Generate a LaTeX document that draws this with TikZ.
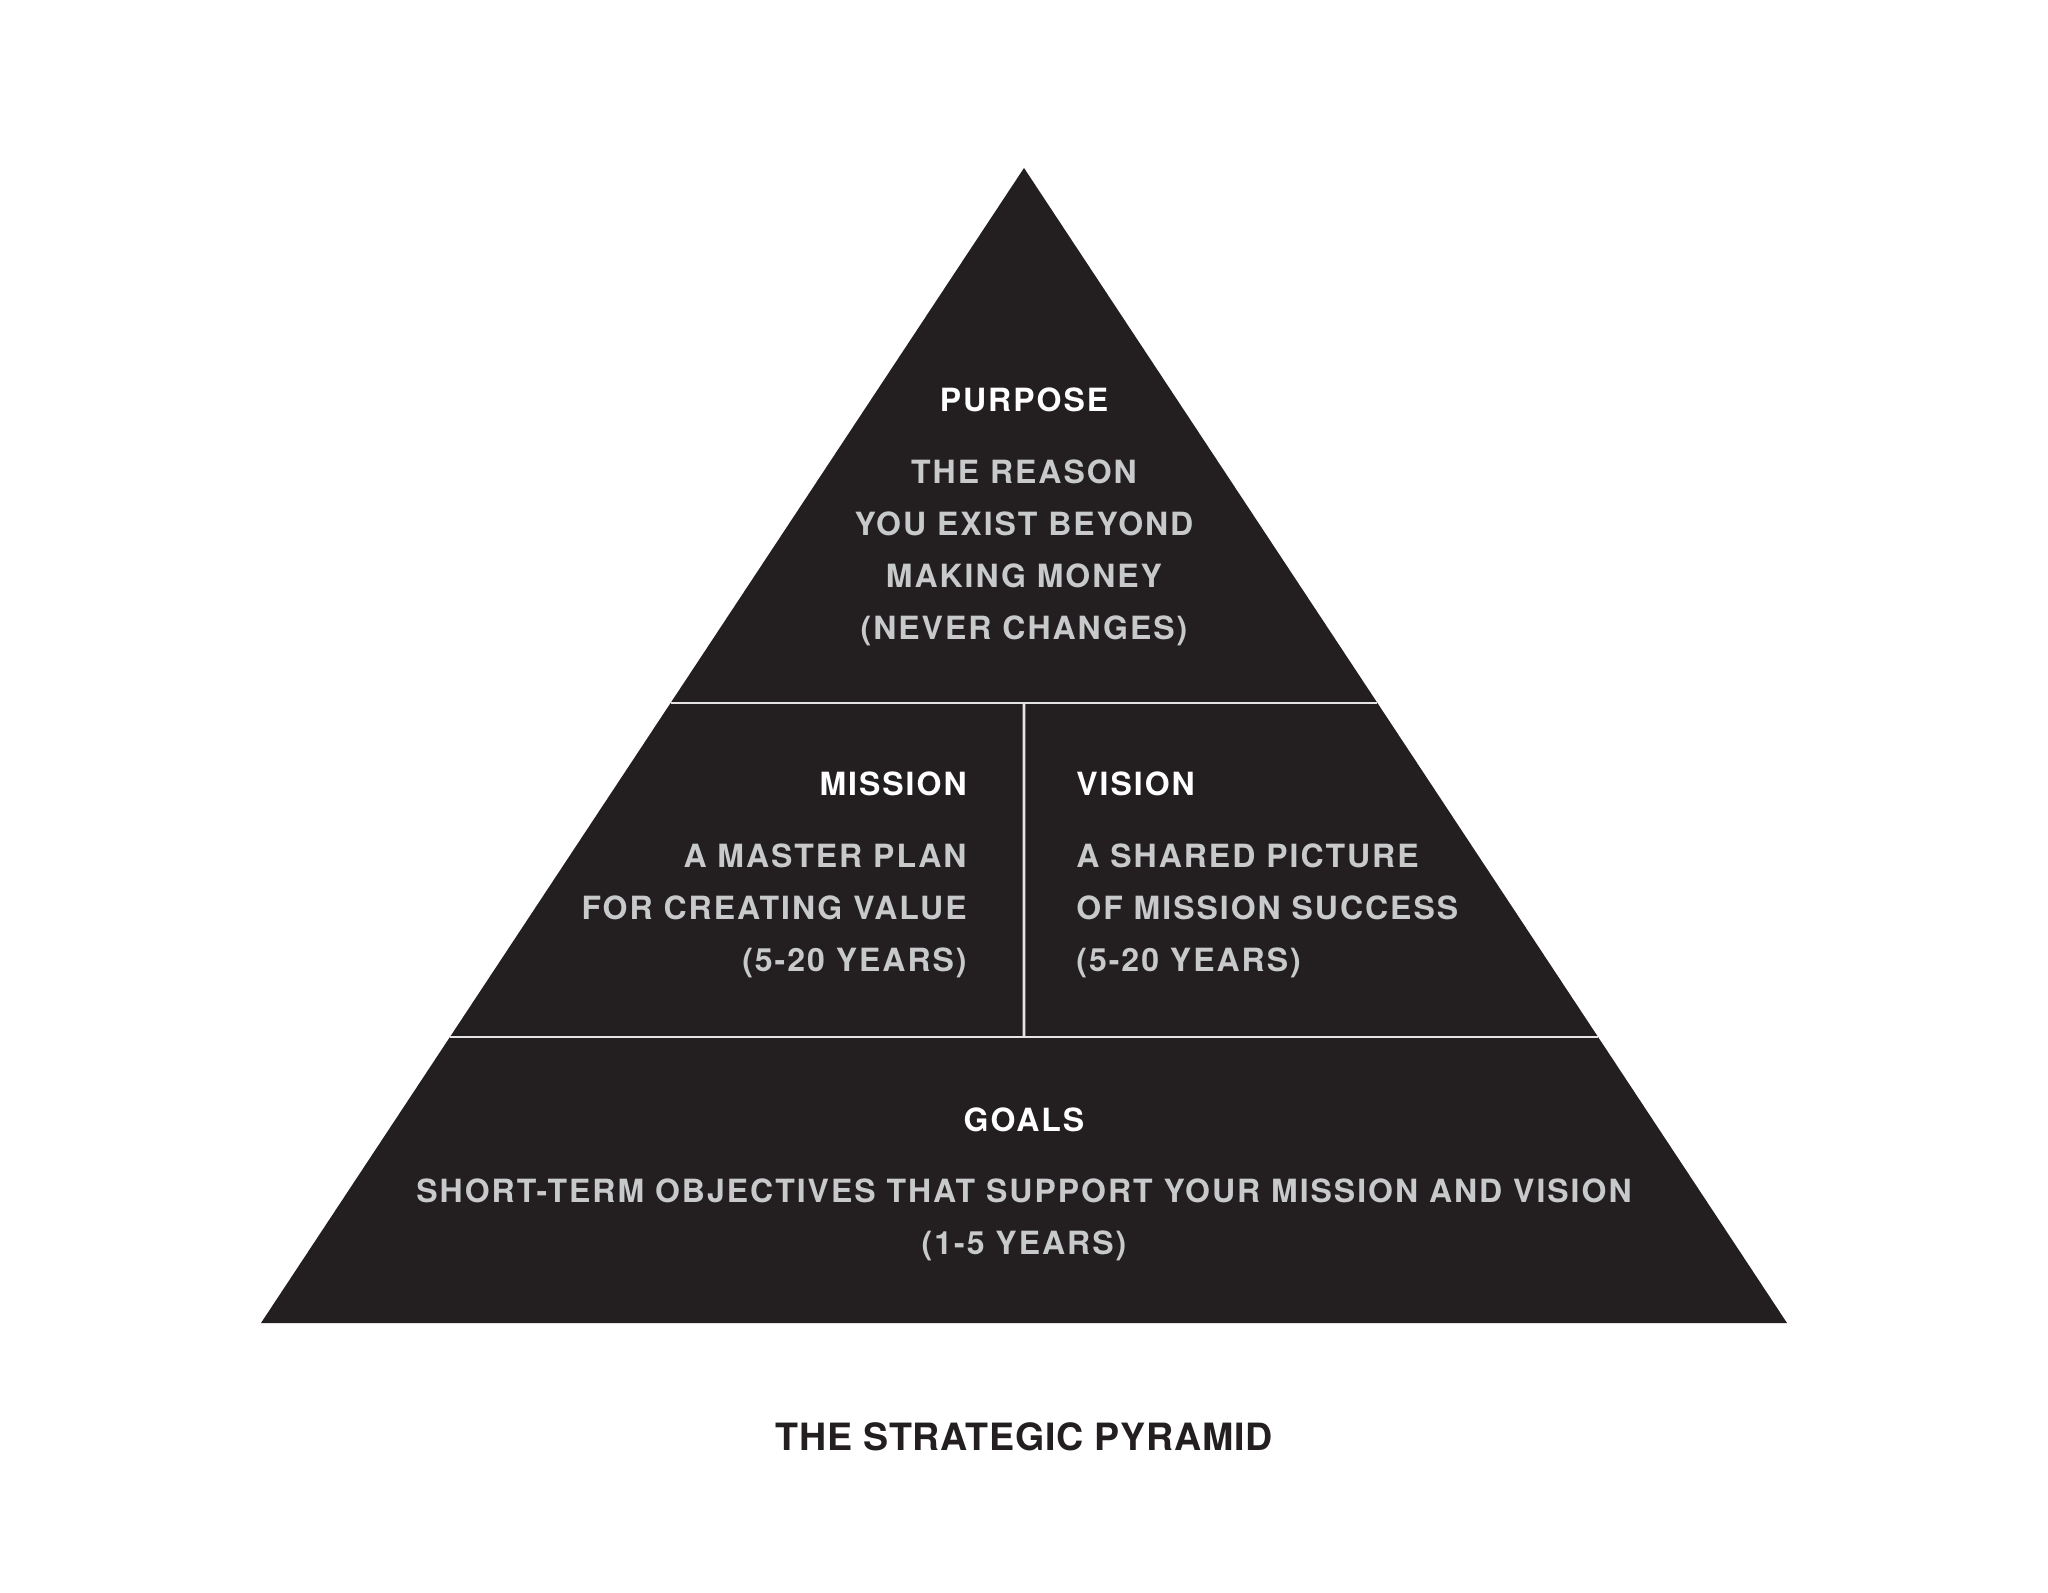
\documentclass[tikz,border=0pt]{standalone}
\usepackage{fontspec}
\setmainfont{TeX Gyre Heros}
\newfontfamily\pyrfont[LetterSpace=6.2]{TeX Gyre Heros}
\newfontfamily\pyrtitlefont[LetterSpace=2]{TeX Gyre Heros}
\usetikzlibrary{positioning,calc}
\definecolor{pyrdark}{HTML}{231F20}
\definecolor{pyrgrey}{HTML}{C8C9CB}
\definecolor{pyrline}{HTML}{E4E4E4}
\tikzset{
  headtxt/.style={text=white, inner sep=0pt, font=\pyrfont\bfseries\fontsize{16}{19}\selectfont},
  bodytxt/.style={text=pyrgrey, inner sep=0pt, font=\pyrfont\bfseries\fontsize{16}{26}\selectfont},
  titletxt/.style={text=pyrdark, inner sep=0pt, font=\pyrtitlefont\bfseries\fontsize{18.8}{22}\selectfont},
  divline/.style={draw=pyrline, line width=1.4pt}}

\begin{document}
\begin{tikzpicture}[x=0.5pt, y=-0.5pt]
  \useasboundingbox (0,0) rectangle (2048,1593);
  \coordinate (apex) at (1024,168);
  \coordinate (bl) at (261,1323);
  \coordinate (br) at (1787,1323);
  \fill[pyrdark] (apex) -- (br) -- (bl) -- cycle;

  % tier dividers
  \coordinate (topL) at ($(apex)!0.4632!(bl)$);
  \coordinate (topR) at ($(apex)!0.4632!(br)$);
  \coordinate (midL) at ($(apex)!0.7524!(bl)$);
  \coordinate (midR) at ($(apex)!0.7524!(br)$);
  \coordinate (topC) at ($(topL)!0.5!(topR)$);
  \coordinate (midC) at ($(midL)!0.5!(midR)$);
  \draw[divline] (topL) -- (topR);
  \draw[divline] (midL) -- (midR);
  \draw[divline] (topC) -- (midC);

  \node[headtxt, anchor=base] (purpose) at (1024,412) {PURPOSE};
  \node[bodytxt, anchor=north, align=center] (purposetxt) at (1024,459) {
    THE REASON\\
    YOU EXIST BEYOND\\
    MAKING MONEY\\
    (NEVER CHANGES)};

  \node[headtxt, anchor=base east] (mission) at (967,795) {MISSION};
  \node[bodytxt, anchor=north east, align=right] (missiontxt) at (967,843.5) {
    A MASTER PLAN\\
    FOR CREATING VALUE\\
    (5-20 YEARS)};

  \node[headtxt, anchor=base west] (vision) at (1076,795) {VISION};
  \node[bodytxt, anchor=north west, align=left] (visiontxt) at (1076,843.5) {
    A SHARED PICTURE\\
    OF MISSION SUCCESS\\
    (5-20 YEARS)};

  \node[headtxt, anchor=base] (goals) at (1024,1131) {GOALS};
  \node[bodytxt, anchor=north, align=center] (goalstxt) at (1024,1178) {
    SHORT-TERM OBJECTIVES THAT SUPPORT YOUR MISSION AND VISION\\
    (1-5 YEARS)};

  \node[titletxt, anchor=base] (title) at (1024,1450) {THE STRATEGIC PYRAMID};
\end{tikzpicture}
\end{document}
